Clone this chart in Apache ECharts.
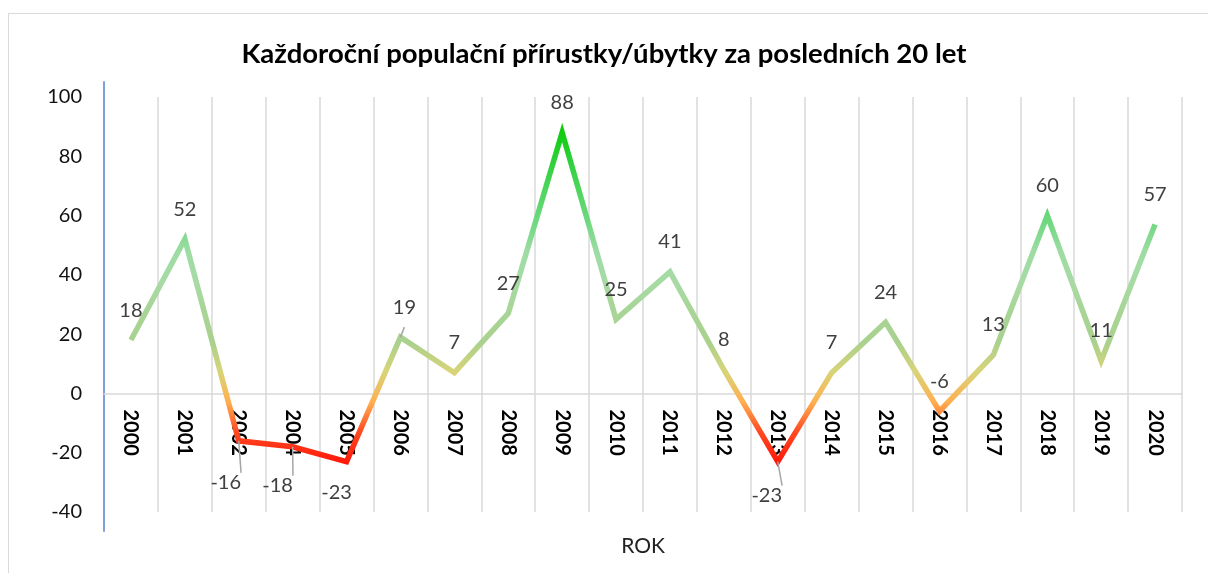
<!DOCTYPE html>
<html>
<head>
<meta charset="utf-8">
<script src="https://cdn.jsdelivr.net/npm/echarts@6/dist/echarts.min.js"></script>
<style>
  html, body { margin: 0; padding: 0; background: #fff; }
  #frame { position: absolute; left: 8px; top: 13px; width: 1250px; height: 600px; border: 1.5px solid #D9D9D9; }
  #chart { position: absolute; left: 0; top: 0; width: 1208px; height: 573px; }
</style>
</head>
<body>
<div id="frame"></div>
<div id="chart"></div>
<script>
const categories = ['2000','2001','2002','2004','2005','2006','2007','2008','2009','2010','2011','2012','2013','2014','2015','2016','2017','2018','2019','2020'];
const values = [18, 52, -16, -18, -23, 19, 7, 27, 88, 25, 41, 8, -23, 7, 24, -6, 13, 60, 11, 57];
const yTicks = { min: -40, max: 100, interval: 20 };
const titleText = 'Každoroční populační přírustky/úbytky za posledních 20 let';
const axisName = 'ROK';

// label placement tweaks (style only)
const labelTweaks = {
  2:  { label: { position: 'bottom', distance: 32, offset: [-13, 0] }, labelLine: { show: true } },
  3:  { label: { position: 'bottom', distance: 29, offset: [-15, 0] }, labelLine: { show: true } },
  4:  { label: { position: 'bottom', distance: 21, offset: [-10, 0] } },
  5:  { label: { offset: [4, 0] }, labelLine: { show: true } },
  12: { label: { position: 'bottom', distance: 24, offset: [-11, 0] }, labelLine: { show: true } }
};

const FONT = 'Lato, "Open Sans", sans-serif';
const GRID = { left: 104, right: 26, top: 97, bottom: 61 };
const chartH = 573;
const plotH = chartH - GRID.top - GRID.bottom;
const zeroOffset = -plotH * (0 - yTicks.min) / (yTicks.max - yTicks.min);

const chart = echarts.init(document.getElementById('chart'), null, { renderer: 'canvas' });

const seriesData = values.map((v, i) => Object.assign({ value: v }, labelTweaks[i] || {}));

chart.setOption({
  backgroundColor: 'transparent',
  animation: false,
  title: {
    text: titleText,
    left: 'center',
    top: 35,
    textStyle: { fontFamily: FONT, fontSize: 27.5, fontWeight: 'bold', color: '#000' }
  },
  grid: [
    Object.assign({ containLabel: false, outerBoundsMode: 'none' }, GRID),
    { left: 104, right: 26, top: 82, bottom: 42, containLabel: false, outerBoundsMode: 'none' }
  ],
  visualMap: {
    show: false,
    type: 'continuous',
    seriesIndex: 0,
    dimension: 1,
    min: -23,
    max: 88,
    inRange: {
      color: ['#FF1A0A', '#FF4A22', '#FFB050', '#D8D478', '#A9D18E', '#A8D596', '#A8DAA4', '#9EDCA4', '#70D880', '#50D660', '#30D03C', '#10CC10']
    }
  },
  xAxis: [
    {
      type: 'category',
      gridIndex: 0,
      data: categories,
      boundaryGap: true,
      offset: zeroOffset,
      name: axisName,
      nameLocation: 'middle',
      nameGap: 142,
      nameTextStyle: { fontFamily: FONT, fontSize: 21, color: '#222' },
      axisLine: { show: true, onZero: false, lineStyle: { color: '#D9D9D9', width: 1.5 } },
      axisTick: { show: false },
      splitLine: { show: true, lineStyle: { color: '#D9D9D9', width: 1.5 } },
      axisLabel: { interval: 0, rotate: -90, margin: 16, fontFamily: FONT, fontSize: 20, fontWeight: 'bold', color: '#000' }
    },
    {
      type: 'category',
      gridIndex: 1,
      data: categories,
      show: false
    }
  ],
  yAxis: [
    {
      type: 'value',
      gridIndex: 0,
      min: yTicks.min,
      max: yTicks.max,
      interval: yTicks.interval,
      axisLine: { show: false },
      axisTick: { show: false },
      splitLine: { show: false },
      axisLabel: { margin: 22, fontFamily: FONT, fontSize: 20, color: '#111' }
    },
    {
      type: 'value',
      gridIndex: 1,
      min: 0,
      max: 1,
      axisLine: { show: true, lineStyle: { color: '#7F9FDA', width: 2 } },
      axisTick: { show: false },
      axisLabel: { show: false },
      splitLine: { show: false }
    }
  ],
  series: [
    {
      type: 'line',
      xAxisIndex: 0,
      yAxisIndex: 0,
      data: seriesData,
      showSymbol: true,
      symbol: 'circle',
      symbolSize: 0.01,
      lineStyle: { width: 5.5, join: 'miter' },
      label: {
        show: true,
        position: 'top',
        distance: 20,
        fontFamily: FONT,
        fontSize: 20,
        color: '#404040'
      },
      labelLine: { show: false, lineStyle: { color: '#A6A6A6', width: 1.5 } }
    }
  ]
});
</script>
</body>
</html>
